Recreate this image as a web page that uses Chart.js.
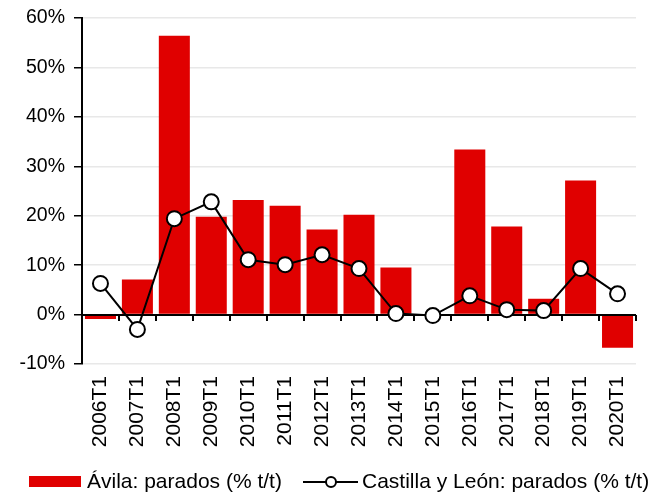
<!DOCTYPE html>
<html><head><meta charset="utf-8">
<script src="https://cdn.jsdelivr.net/npm/chart.js@4.4.0/dist/chart.umd.min.js"></script>
<style>
html,body{margin:0;padding:0;background:#fff;}
#wrap{position:relative;width:670px;height:494px;overflow:hidden;}
#c{position:absolute;left:0;top:0;}
.lg{position:absolute;font-family:"Liberation Sans",Arial,sans-serif;font-size:21px;color:#000;white-space:nowrap;line-height:24px;}
.box{position:absolute;left:29px;top:476px;width:52px;height:11px;background:#E00000;}
</style></head>
<body><div id="wrap"><canvas id="c" width="670" height="494"></canvas>
<div class="box"></div>
<div class="lg" style="left:87px;top:469px;">Ávila: parados (% t/t)</div>
<svg style="position:absolute;left:303px;top:472px" width="56" height="20"><line x1="0" y1="10" x2="55" y2="10" stroke="#000" stroke-width="2"/><circle cx="28" cy="10" r="5" fill="#fff" stroke="#000" stroke-width="2"/></svg>
<div class="lg" style="left:362px;top:469px;">Castilla y León: parados (% t/t)</div>
</div>
<script>
const categories = ["2006T1","2007T1","2008T1","2009T1","2010T1","2011T1","2012T1","2013T1","2014T1","2015T1","2016T1","2017T1","2018T1","2019T1","2020T1"];
const avila = [-0.9, 7.1, 56.4, 19.8, 23.2, 22.0, 17.2, 20.2, 9.5, 0.0, 33.4, 17.8, 3.2, 27.1, -6.7];
const castilla = [6.3, -3.0, 19.4, 22.8, 11.1, 10.1, 12.1, 9.3, 0.2, -0.2, 3.8, 1.0, 0.8, 9.3, 4.2];
const yTicks = [-10, 0, 10, 20, 30, 40, 50, 60];

const zeroLine = {
  id: 'zeroLine',
  afterDatasetDraw(chart, args) {
    if (args.index !== 0) return;
    const ctx = chart.ctx, y = chart.scales.y, a = chart.chartArea;
    const y0 = Math.round(y.getPixelForValue(0));
    ctx.save();
    ctx.strokeStyle = '#000'; ctx.lineWidth = 2;
    ctx.beginPath();
    ctx.moveTo(a.left, y0); ctx.lineTo(a.right, y0);
    const n = categories.length;
    const w = (a.right - a.left) / n;
    for (let i = 1; i <= n; i++) {
      const xx = Math.round(a.left + i * w);
      ctx.moveTo(xx, y0); ctx.lineTo(xx, y0 + 6);
    }
    ctx.stroke();
    ctx.restore();
  }
};

const FONT = '"Liberation Sans", Arial, sans-serif';
new Chart(document.getElementById('c'), {
  data: {
    labels: categories,
    datasets: [
      { type: 'bar', label: 'Ávila: parados (% t/t)', data: avila, backgroundColor: '#E00000',
        barPercentage: 0.84, categoryPercentage: 1.0, order: 2 },
      { type: 'line', label: 'Castilla y León: parados (% t/t)', data: castilla, borderColor: '#000', borderWidth: 2,
        pointRadius: 7.5, pointBackgroundColor: '#fff', pointBorderColor: '#000', pointBorderWidth: 2, order: 1, tension: 0 }
    ]
  },
  options: {
    responsive: false, animation: false,
    layout: { padding: { top: 18, right: 34, left: 0, bottom: 0 } },
    plugins: { legend: { display: false }, tooltip: { enabled: false } },
    scales: {
      x: {
        afterFit(s) { s.height = 130; },
        grid: { display: false },
        border: { display: false },
        ticks: { minRotation: 90, maxRotation: 90, color: '#000', padding: 4,
          font: { family: FONT, size: 21 } }
      },
      y: {
        min: -10, max: 60,
        afterFit(s) { s.width = 82; s.paddingTop = 0; },
        afterBuildTicks(s) { s.ticks = yTicks.map(v => ({ value: v })); },
        grid: { color: '#e8e8e8', lineWidth: 1.5, tickColor: '#000', tickLength: 8 },
        border: { color: '#000', width: 2 },
        ticks: { color: '#000', padding: 9, callback: v => v + '%',
          font: { family: FONT, size: 19.5 } }
      }
    }
  },
  plugins: [zeroLine]
});
</script></body></html>
